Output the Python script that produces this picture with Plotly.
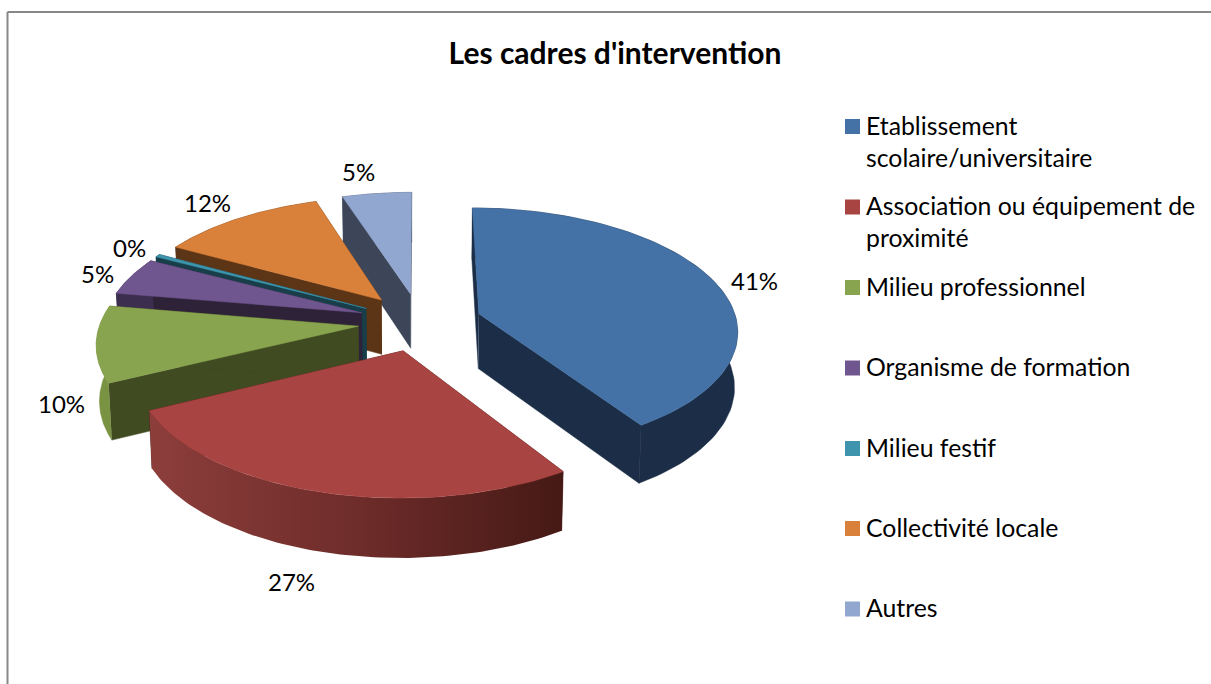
import numpy as np
import plotly.graph_objects as go

W, H = 1211, 684
FONT = "Lato"

title = "Les cadres d'intervention"
categories = ["Etablissement<br>scolaire/universitaire", "Association ou équipement de<br>proximité",
              "Milieu professionnel", "Organisme de formation", "Milieu festif",
              "Collectivité locale", "Autres"]
values = [41, 27, 10, 5, 0.4, 12, 5]

top_colors = ["#4472a6", "#a84442", "#89a44e", "#70568f", "#3d94ac", "#d9813a", "#92a7cf"]
edge_colors = ["#1c2e47", "#481a17", "#404b22", "#2e2239", "#173e49", "#5c3416", "#3c4658"]
arc_colors = ["#1c2e47", None, "#7a9343", "#3c2e4e", "#173e49", "#5c3416", "#3c4658"]
label_pos = [(754, 280), (291, 581), (61, 403), (97, 273), (129, 247), (207, 202), (358, 171)]
legend_rows = [126.5, 207, 287.5, 368, 448.5, 528.5, 609]

CX, CY, A, B, K, EXPL, DEPTH, START = 420, 322, 258, 121, 0.125, 0.24, 55, 0.0


def project(X, Y):
    s = 1 + K * Y
    return CX + A * X / s, CY - B * Y / s


def drop(x, y, Y):
    return CX + (x - CX) * 0.99, y + DEPTH - 4 * Y


def slice_geometry(t0, t1):
    mid = (t0 + t1) / 2
    ox, oy = EXPL * np.sin(mid), EXPL * np.cos(mid)
    t = np.linspace(t0, t1, 90)
    X, Y = ox + np.sin(t), oy + np.cos(t)
    ax, ay = project(ox, oy)
    x, y = project(X, Y)
    bax, bay = drop(ax, ay, oy)
    bx, by = drop(x, y, Y)
    return dict(ax=ax, ay=ay, x=x, y=y, bax=bax, bay=bay, bx=bx, by=by)


def poly(x, y, color, **kw):
    return go.Scatter(x=list(x), y=list(y), mode="lines", fill="toself", fillcolor=color,
                      line=dict(color=color, width=0.5), hoverinfo="skip", showlegend=False, **kw)


fractions = np.array(values) / sum(values) * 2 * np.pi
stops = START + np.concatenate([[0], np.cumsum(fractions)])
geoms = [slice_geometry(stops[i], stops[i + 1]) for i in range(len(values))]

fig = go.Figure()
for i in [6, 5, 4, 3, 2, 1, 0]:
    g = geoms[i]
    fig.add_trace(poly([g["ax"], g["x"][0], g["bx"][0], g["bax"]], [g["ay"], g["y"][0], g["by"][0], g["bay"]], edge_colors[i]))
    fig.add_trace(poly([g["ax"], g["x"][-1], g["bx"][-1], g["bax"]], [g["ay"], g["y"][-1], g["by"][-1], g["bay"]], edge_colors[i]))
    wx = np.r_[g["x"], g["bx"][::-1]]
    wy = np.r_[g["y"], g["by"][::-1]]
    if arc_colors[i] is None:
        fig.add_trace(go.Scatter(x=list(wx), y=list(wy), mode="lines", fill="toself",
                                 line=dict(color="rgba(0,0,0,0)", width=0), hoverinfo="skip", showlegend=False,
                                 fillgradient=dict(type="horizontal", start=152, stop=566,
                                                   colorscale=[[0, "#8c3e3b"], [0.5, "#6e2c2a"], [1, "#451915"]])))
    else:
        fig.add_trace(poly(wx, wy, arc_colors[i]))
    fig.add_trace(poly(np.r_[g["ax"], g["x"], g["ax"]], np.r_[g["ay"], g["y"], g["ay"]], top_colors[i],
                       name=categories[i].replace("<br>", " ")))

annotations = [dict(x=p[0], y=p[1], xref="x", yref="y", showarrow=False,
                    text=f"{round(v)}%", font=dict(family=FONT, size=24, color="#000"))
               for p, v in zip(label_pos, values)]
annotations += [dict(x=866, y=row - 16, xref="x", yref="y", xanchor="left", yanchor="top", align="left",
                     showarrow=False, text=name, borderpad=0, borderwidth=0,
                     font=dict(family=FONT, size=24.8, color="#000"))
                for name, row in zip(categories, legend_rows)]

shapes = [dict(type="line", xref="paper", yref="paper", x0=7.5 / W, x1=7.5 / W, y0=0, y1=1 - 12 / H,
               line=dict(color="#888888", width=2)),
          dict(type="line", xref="paper", yref="paper", x0=7.5 / W, x1=1, y0=1 - 12 / H, y1=1 - 12 / H,
               line=dict(color="#888888", width=2))]
shapes += [dict(type="rect", xref="x", yref="y", x0=845, x1=860, y0=row - 7.5, y1=row + 7.5,
                fillcolor=c, line=dict(width=0))
           for row, c in zip(legend_rows, top_colors)]

fig.update_layout(
    width=W, height=H, margin=dict(l=0, r=0, t=0, b=0), paper_bgcolor="white", plot_bgcolor="white",
    showlegend=False,
    title=dict(text=f"<b>{title}</b>", x=615 / W, y=1 - 53 / H, xanchor="center", yanchor="middle",
               font=dict(family=FONT, size=30, color="#000")),
    xaxis=dict(range=[0, W], visible=False, fixedrange=True),
    yaxis=dict(range=[H, 0], visible=False, fixedrange=True),
    annotations=annotations, shapes=shapes,
)
fig.write_html("out.html", config=dict(displayModeBar=False),
               post_script="document.body.style.margin='0';document.documentElement.style.overflow='hidden';")
